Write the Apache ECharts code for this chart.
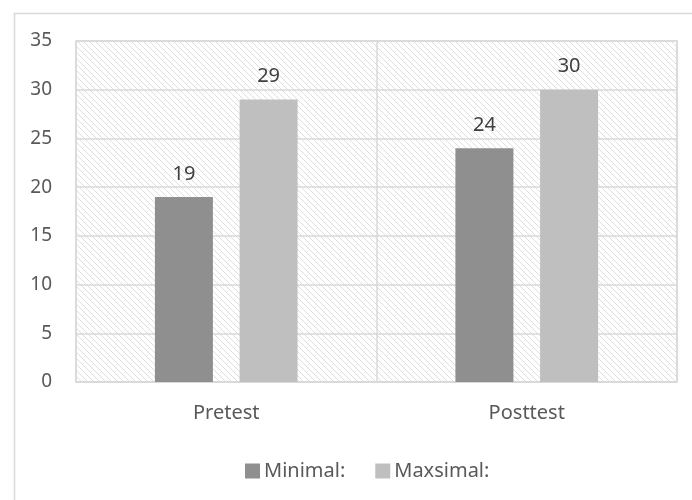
<!DOCTYPE html>
<html><head><meta charset="utf-8">
<script src="https://cdn.jsdelivr.net/npm/echarts@6/dist/echarts.min.js"></script>
<style>html,body{margin:0;padding:0;background:#fff}#c{width:692px;height:500px}</style>
</head><body><div id="c"></div>
<script>
const categories = ['Pretest', 'Posttest'];
const minimalValues = [19, 24];
const maxsimalValues = [29, 30];
const seriesNames = ['Minimal:', 'Maxsimal:'];

const pat = document.createElement('canvas');
pat.width = 6; pat.height = 6;
const g = pat.getContext('2d');
g.fillStyle = '#ffffff'; g.fillRect(0,0,6,6);
g.strokeStyle = '#dedede'; g.lineWidth = 1;
g.beginPath();
g.moveTo(-1,-1); g.lineTo(7,7);
g.moveTo(-1,5); g.lineTo(1,7);
g.moveTo(5,-1); g.lineTo(7,1);
g.stroke();

const font = 'Noto Sans, sans-serif';
const chart = echarts.init(document.getElementById('c'));
chart.setOption({
  animation: false,
  backgroundColor: '#fff',
  graphic: [{
    type: 'rect', left: 12, top: 11,
    shape: { width: 700, height: 500 },
    style: { fill: 'none', stroke: '#d9d9d9', lineWidth: 1.5 }, silent: true
  }],
  grid: {
    left: 76, right: 15, top: 41, bottom: 118,
    show: true, borderColor: '#d9d9d9', borderWidth: 1.5,
    backgroundColor: { image: pat, repeat: 'repeat' }
  },
  legend: {
    top: 456, left: 240, itemWidth: 15, itemHeight: 15, itemGap: 30,
    icon: 'rect',
    textStyle: { color: '#595959', fontSize: 20, fontFamily: font, padding: [0, 0, 0, -1] },
    data: seriesNames
  },
  xAxis: {
    type: 'category', data: categories,
    axisLine: { show: true, lineStyle: { color: '#d9d9d9', width: 1.5 } },
    axisTick: { show: false },
    splitLine: { show: true, lineStyle: { color: '#d9d9d9', width: 1.5 } },
    axisLabel: { color: '#595959', fontSize: 20, fontFamily: font, margin: 21 }
  },
  yAxis: {
    type: 'value', min: 0, max: 35, interval: 5,
    axisLine: { show: false }, axisTick: { show: false },
    splitLine: { lineStyle: { color: '#d9d9d9', width: 1.5 } },
    axisLabel: { color: '#595959', fontSize: 19, fontFamily: font, margin: 24 }
  },
  series: [
    { name: seriesNames[0], type: 'bar', data: minimalValues, barWidth: 58, barGap: '46%',
      itemStyle: { color: '#8f8f8f' },
      label: { show: true, position: 'top', distance: 13, color: '#404040', fontSize: 20, fontFamily: font } },
    { name: seriesNames[1], type: 'bar', data: maxsimalValues, barWidth: 58,
      itemStyle: { color: '#bfbfbf' },
      label: { show: true, position: 'top', distance: 13, color: '#404040', fontSize: 20, fontFamily: font } }
  ]
});
</script></body></html>
